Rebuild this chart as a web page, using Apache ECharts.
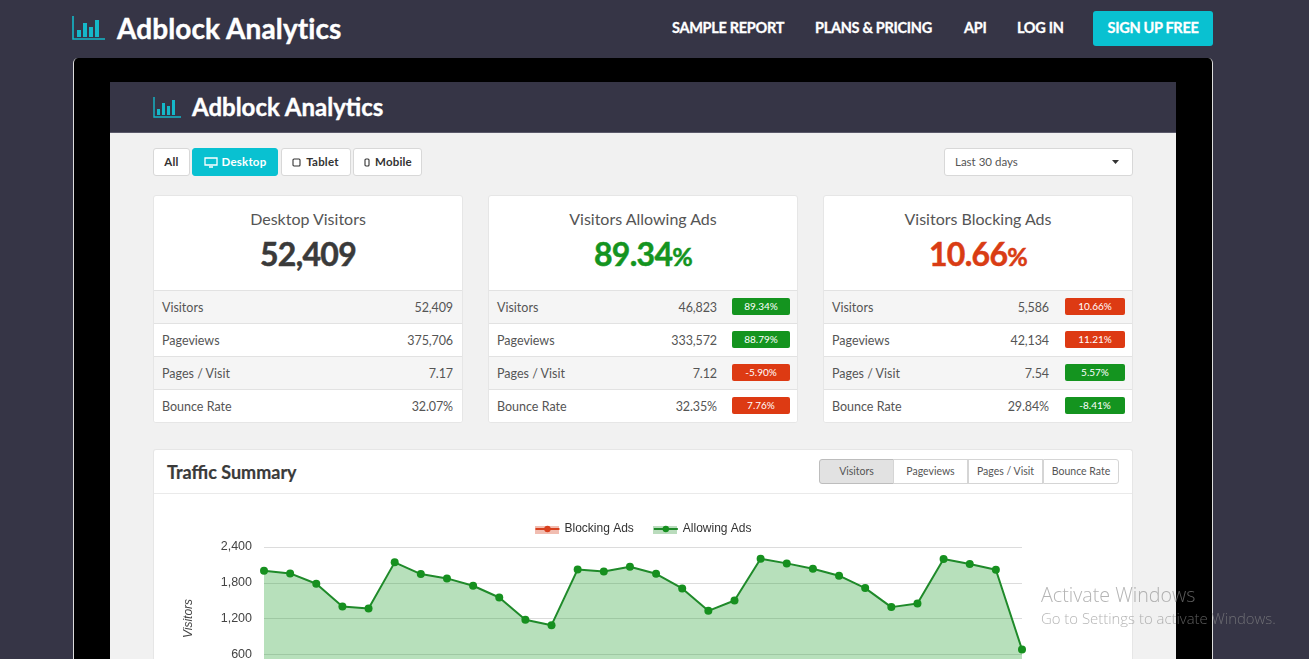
<!DOCTYPE html>
<html lang="en">
<head>
<meta charset="UTF-8">
<title>Adblock Analytics</title>
<script src="https://cdn.jsdelivr.net/npm/echarts@6/dist/echarts.min.js"></script>
<style>
    html, body { margin: 0; padding: 0; width: 1309px; height: 659px; overflow: hidden; background: #363546; font-family: Lato, "Open Sans", sans-serif; color: #444; }
    .abs { position: absolute; box-sizing: border-box; white-space: nowrap; }
    .brand { color: #fff; font-weight: 700; -webkit-text-stroke: .4px #fff; }
    .nav { color: #fff; font-weight: 700; font-size: 14.5px; top: 18px; line-height: 20px; letter-spacing: -0.3px; -webkit-text-stroke: .3px #fff; }
    .btn { top: 148px; height: 28px; background: #fff; border: 1px solid #d8d8d8; border-radius: 3px; font-size: 11.5px; font-weight: 700; line-height: 26px; text-align: center; color: #333; letter-spacing: .2px; }
    .card { background: #fff; border: 1px solid #e6e6e6; border-radius: 3px; top: 195px; width: 310px; height: 228px; overflow: hidden; }
    .card .t { position: absolute; left: 0; right: 0; top: 12px; text-align: center; font-size: 16px; line-height: 22px; color: #555; }
    .card .n { position: absolute; left: 0; right: 0; top: 36px; text-align: center; font-size: 32px; line-height: 44px; font-weight: 700; letter-spacing: -0.7px; -webkit-text-stroke: .5px; }
    .card .n span { font-size: 25px; }
    .row { position: absolute; left: 0; right: 0; height: 33px; border-top: 1px solid #e2e2e2; font-size: 12.5px; line-height: 34px; color: #555; }
    .row .l { position: absolute; left: 8px; }
    .row .v { position: absolute; letter-spacing: -0.1px; }
    .row .b { position: absolute; top: 7px; height: 17px; line-height: 17px; border-radius: 2px; color: #fff; font-size: 10px; text-align: center; }
    .tab { top: 459px; height: 25px; width: 75px; border: 1px solid #d5d5d5; background: #fff; font-size: 10.5px; line-height: 23px; text-align: center; color: #555; }
    #chartmain { position: absolute; left: 154px; top: 500px; width: 978px; height: 240px; }
    .mark { color: rgba(140,140,140,.65); font-family: "Open Sans", sans-serif; font-weight: 300; z-index: 5; }
</style>
</head>
<body>

<div class="abs" style="left:73px;top:58px;width:1140px;height:601px;background:#000;border:1px solid #ddd;border-bottom:0;border-top:0;border-radius:5px 5px 0 0"></div>
<div class="abs" style="left:110px;top:82px;width:1066px;height:51px;background:#363546;border-bottom:1px solid #5a596a"></div>
<div class="abs" style="left:110px;top:133px;width:1066px;height:526px;background:#f1f1f1"></div>

<svg class="abs" style="left:72px;top:16px" width="33" height="25" viewBox="0 0 33 25">
    <path d="M1 0V23H33" fill="none" stroke="#15b8c9" stroke-width="1.6"/>
    <path d="M5 14h4v7H5zM11 7h4v14h-4zM17 11h4v10h-4zM23 4h4v17h-4z" fill="#15b8c9"/>
</svg>
<div class="abs brand" style="left:117px;top:10px;font-size:28px;line-height:36px;letter-spacing:.1px">Adblock Analytics</div>
<div class="abs nav" style="left:672px">SAMPLE REPORT</div>
<div class="abs nav" style="left:815px">PLANS &amp; PRICING</div>
<div class="abs nav" style="left:964px">API</div>
<div class="abs nav" style="left:1017px">LOG IN</div>
<div class="abs nav" style="left:1093px;top:11px;width:120px;height:35px;line-height:34px;background:#09c1d1;border-radius:3px;text-align:center">SIGN UP FREE</div>

<svg class="abs" style="left:153px;top:97px" width="28" height="21" viewBox="0 0 28 21">
    <path d="M1 0V20H28" fill="none" stroke="#15b8c9" stroke-width="1.4"/>
    <path d="M4 12h3v6H4zM9 6h3v12H9zM14 9h3v9h-3zM19 3h3v15h-3z" fill="#15b8c9"/>
</svg>
<div class="abs brand" style="left:192px;top:91px;font-size:24px;line-height:32px">Adblock Analytics</div>

<div class="abs btn" style="left:153px;width:37px">All</div>
<div class="abs btn" style="left:192px;width:86px;background:#09c1d1;border-color:#09c1d1;color:#fff;padding-left:18px">Desktop
    <svg style="position:absolute;left:11px;top:8px" width="14" height="11" viewBox="0 0 14 11"><path d="M1 1h12v7H1zM5 10h4" fill="none" stroke="#fff" stroke-width="1.3"/></svg></div>
<div class="abs btn" style="left:281px;width:70px;padding-left:13px">Tablet
    <svg style="position:absolute;left:10px;top:9px" width="9" height="9" viewBox="0 0 9 9"><rect x="1" y="1" width="7" height="7" rx="1" fill="none" stroke="#333" stroke-width="1.1"/></svg></div>
<div class="abs btn" style="left:353px;width:69px;padding-left:12px">Mobile
    <svg style="position:absolute;left:10px;top:9px" width="6" height="9" viewBox="0 0 6 9"><rect x="1" y="1" width="4" height="7" rx="1" fill="none" stroke="#333" stroke-width="1.1"/></svg></div>
<div class="abs btn" style="left:944px;width:189px;font-weight:400;text-align:left;padding-left:10px;color:#555;letter-spacing:0">Last 30 days
    <svg style="position:absolute;right:13px;top:11px" width="7" height="4" viewBox="0 0 7 4"><path d="M0 0h7L3.5 4z" fill="#333"/></svg></div>

<div id="cards"></div>

<div class="abs" style="left:153px;top:449px;width:980px;height:210px;background:#fff;border:1px solid #e6e6e6;border-bottom:0;border-radius:3px 3px 0 0"></div>
<div class="abs" style="left:154px;top:493px;width:978px;height:1px;background:#eaeaea"></div>
<div class="abs" style="left:167px;top:460px;font-size:18px;line-height:24px;font-weight:700;color:#3a3a3a;-webkit-text-stroke:.2px #3a3a3a">Traffic Summary</div>
<div class="abs tab" style="left:819px;background:#e2e2e2;border-color:#bdbdbd;border-radius:3px 0 0 3px">Visitors</div>
<div class="abs tab" style="left:893px">Pageviews</div>
<div class="abs tab" style="left:968px">Pages / Visit</div>
<div class="abs tab" style="left:1043px;width:76px;border-radius:0 3px 3px 0">Bounce Rate</div>

<div id="chartmain"></div>

<div class="abs mark" style="left:1041px;top:582px;font-size:19.7px;line-height:26px">Activate Windows</div>
<div class="abs mark" style="left:1041px;top:608px;font-size:14.9px;line-height:20px">Go to Settings to activate Windows.</div>

<script>
    // traffic summary chart
    var days = ["1","2","3","4","5","6","7","8","9","10","11","12","13","14","15","16","17","18","19","20","21","22","23","24","25","26","27","28","29","30"];
    var allowingAds = [2002,1957,1783,1402,1368,2142,1946,1873,1750,1553,1178,1088,2024,1990,2069,1951,1705,1329,1503,2204,2125,2036,1918,1710,1391,1452,2198,2114,2019,679];
    // the red series sits below the bottom edge of the screenshot, nothing to read
    var blockingAds = [];

    // stat cards
    var rowNames = ["Visitors", "Pageviews", "Pages / Visit", "Bounce Rate"];
    var cardLefts = [153, 488, 823];
    var cardTitles = ["Desktop Visitors", "Visitors Allowing Ads", "Visitors Blocking Ads"];
    var cardNumbers = ["52,409", "89.34<span>%</span>", "10.66<span>%</span>"];
    var cardColors = ["#3a3a3a", "#14941f", "#d93c14"];
    var desktopValues = ["52,409", "375,706", "7.17", "32.07%"];
    var allowingValues = ["46,823", "333,572", "7.12", "32.35%"];
    var blockingValues = ["5,586", "42,134", "7.54", "29.84%"];
    var allowingBadges = ["89.34%", "88.79%", "-5.90%", "7.76%"];
    var blockingBadges = ["10.66%", "11.21%", "5.57%", "-8.41%"];
    var allowingBadgeGood = [true, true, false, false];
    var blockingBadgeGood = [false, false, true, true];

    var cardValues = [desktopValues, allowingValues, blockingValues];
    var cardBadges = [null, allowingBadges, blockingBadges];
    var cardGood = [null, allowingBadgeGood, blockingBadgeGood];
    var valueRight = [9, 80, 83];
    var badgeLeft = [0, 243, 241];
    var badgeWidth = [0, 58, 60];

    var html = "";
    for (var c = 0; c < 3; c++) {
        html += '<div class="abs card" style="left:' + cardLefts[c] + 'px">';
        html += '<div class="t">' + cardTitles[c] + '</div>';
        html += '<div class="n" style="color:' + cardColors[c] + '">' + cardNumbers[c] + '</div>';
        for (var r = 0; r < 4; r++) {
            var bg = r % 2 == 0 ? "#f5f5f5" : "#fff";
            html += '<div class="row" style="top:' + (94 + r * 33) + 'px;background:' + bg + '">';
            html += '<span class="l">' + rowNames[r] + '</span>';
            html += '<span class="v" style="right:' + valueRight[c] + 'px">' + cardValues[c][r] + '</span>';
            if (cardBadges[c]) {
                html += '<span class="b" style="left:' + badgeLeft[c] + 'px;width:' + badgeWidth[c] + 'px;background:' + (cardGood[c][r] ? "#14941f" : "#dd3a13") + '">' + cardBadges[c][r] + '</span>';
            }
            html += '</div>';
        }
        html += '</div>';
    }
    document.getElementById("cards").innerHTML = html;

    var myChart = echarts.init(document.getElementById("chartmain"));
    var option = {
        animation: false,
        textStyle: { fontFamily: '"Liberation Sans", Arial, sans-serif' },
        grid: { left: 110, right: 110, top: 47, bottom: 50 },
        legend: {
            top: 18,
            itemWidth: 24,
            itemHeight: 8,
            itemGap: 19,
            textStyle: { color: "#333", fontSize: 12 },
            data: ["Blocking Ads", "Allowing Ads"]
        },
        // the pale band under each legend line
        graphic: [
            { type: "rect", silent: true, shape: { x: 381, y: 26, width: 24, height: 8 }, style: { fill: "rgba(216,65,31,.35)" } },
            { type: "rect", silent: true, shape: { x: 499, y: 26, width: 24, height: 8 }, style: { fill: "rgba(28,140,38,.3)" } }
        ],
        xAxis: {
            type: "category",
            data: days,
            boundaryGap: false,
            axisLine: { show: false },
            axisTick: { show: false },
            axisLabel: { color: "#444" }
        },
        yAxis: {
            type: "value",
            min: 0,
            max: 2400,
            interval: 600,
            name: "Visitors",
            nameLocation: "middle",
            nameRotate: 90,
            nameGap: 69,
            nameTextStyle: { color: "#444", fontStyle: "italic", fontSize: 12 },
            axisLine: { show: false },
            axisTick: { show: false },
            axisLabel: { color: "#444", fontSize: 12.5, margin: 12, verticalAlignMaxLabel: "middle", padding: [4, 0, 0, 0] },
            splitLine: { lineStyle: { color: "#dcdcdc", width: 1 } }
        },
        series: [{
            name: "Blocking Ads",
            type: "line",
            data: blockingAds,
            symbol: "circle",
            symbolSize: 8,
            itemStyle: { color: "#d8411f" },
            lineStyle: { color: "#d8411f", width: 2 },
            areaStyle: { color: "#d8411f", opacity: .3 }
        }, {
            name: "Allowing Ads",
            type: "line",
            data: allowingAds,
            symbol: "circle",
            symbolSize: 8,
            showAllSymbol: true,
            itemStyle: { color: "#16901f" },
            lineStyle: { color: "#1f8a2a", width: 2 },
            areaStyle: { color: "#1f9e2a", opacity: .32 }
        }]
    };
    myChart.setOption(option);
</script>
</body>
</html>
